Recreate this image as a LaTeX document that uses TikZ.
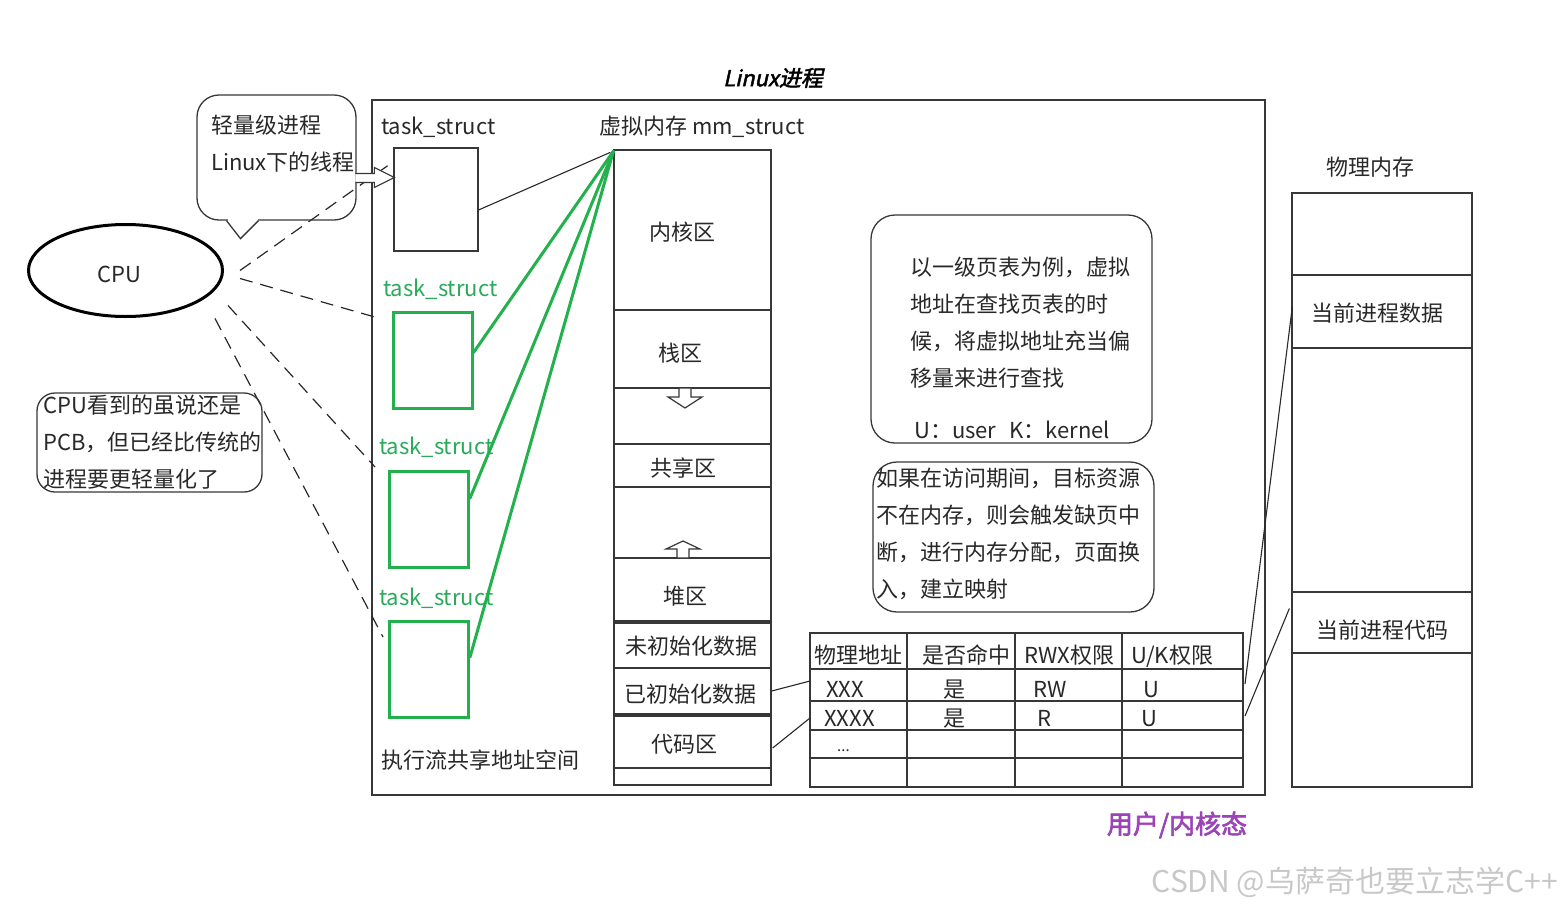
\documentclass[tikz,border=0pt]{standalone}
\usepackage{fontspec}
\setmainfont{Noto Sans CJK SC}
\newfontfamily\titlefont[FakeSlant=0.22,FakeBold=2]{Noto Sans CJK SC}
\newfontfamily\boldcjk[FakeBold=2.5]{Noto Sans CJK SC}
\usetikzlibrary{calc,shapes.geometric}

\definecolor{inkgray}{RGB}{40,40,40}
\definecolor{linegray}{RGB}{55,55,55}
\definecolor{tsgreen}{RGB}{34,177,76}
\definecolor{tstext}{RGB}{40,170,90}
\definecolor{statepurple}{RGB}{155,68,182}
\definecolor{markgray}{RGB}{200,200,200}

\tikzset{
  every node/.style={inner sep=0pt, text=inkgray},
  lbl/.style={font=\fontsize{22}{26}\selectfont, text height=17.5pt, text depth=1pt, anchor=west},
  clbl/.style={lbl, anchor=center},
  greenlbl/.style={lbl, text=tstext},
  box/.style={draw=linegray, line width=1.3pt, rectangle},
  greenbox/.style={draw=tsgreen, line width=3pt, rectangle, minimum width=79pt, minimum height=96pt},
  reg/.style={box, minimum width=157pt},
  pmreg/.style={box, minimum width=180pt},
  roundbox/.style={draw=linegray, line width=1.3pt, rounded corners=24pt},
  cpulink/.style={draw=inkgray, line width=1.2pt, dash pattern=on 13pt off 8pt},
  greenline/.style={draw=tsgreen, line width=3pt, line cap=round},
  thinlink/.style={draw=inkgray, line width=1.1pt},
  gridline/.style={draw=linegray, line width=1.3pt},
}

\begin{document}
\begin{tikzpicture}[x=1pt,y=-1pt]
\useasboundingbox (0,0) rectangle (1561,908);

% ---------- process frame ----------
\node[box, line width=1.6pt, minimum width=893pt, minimum height=695pt] (frame) at (818.5,447.5) {};
\node[font=\titlefont\fontsize{22}{26}\selectfont, text=black] (title) at (773,78) {Linux进程};

% ---------- task_struct column ----------
\node[lbl] (ts0lbl) at (381,126) {task\_struct};
\node[box, minimum width=84pt, minimum height=103pt] (tb0) at (436,199.5) {};

\node[greenlbl] (ts1lbl) at (383,288) {task\_struct};
\node[greenbox] (gb1) at (432.5,360.5) {};
\node[greenlbl] (ts2lbl) at (379,446) {task\_struct};
\node[greenbox] (gb2) at (429,519) {};
\node[greenlbl] (ts3lbl) at (379,597) {task\_struct};
\node[greenbox] (gb3) at (429,669) {};

\node[lbl] (sharelbl) at (381,760) {执行流共享地址空间};

% ---------- virtual memory (mm_struct) ----------
\node[lbl] (mmlbl) at (599,126) {虚拟内存 mm\_struct};
\node[reg, minimum height=635pt] (mm) at (692.5,467.5) {};
\node[reg, minimum height=160pt] (kern) at (692.5,230) {};
\node[reg, minimum height=78pt] (stack) at (692.5,349) {};
\node[reg, minimum height=56pt] (gap1) at (692.5,416) {};
\node[reg, line width=2pt, minimum height=43pt] (shared) at (692,465.5) {};
\node[reg, minimum height=71pt] (gap2) at (692.5,522.5) {};
\node[reg, minimum height=63pt] (heap) at (692.5,589.5) {};
\node[reg, minimum height=45pt] (bss) at (692.5,645.5) {};
\node[reg, minimum height=46pt] (data) at (692.5,691) {};
\node[reg, minimum height=52pt] (code) at (692.5,742) {};
\node[reg, minimum height=17pt] (tail) at (692.5,776.5) {};

\node[clbl] (kernlbl) at (682,232) {内核区};
\node[clbl] (stacklbl) at (680,353) {栈区};
\node[clbl] (sharedlbl) at (683,468) {共享区};
\node[clbl] (heaplbl) at (685,596) {堆区};
\node[clbl] (bsslbl) at (691,646) {未初始化数据};
\node[clbl] (datalbl) at (690,694) {已初始化数据};
\node[clbl] (codelbl) at (684,744) {代码区};

% growth arrows of stack and heap
\draw[linegray, line width=1.2pt, fill=white]
  (679,388) -- (691,388) -- (691,397) -- (702,397) -- (685,408) -- (668,397) -- (679,397) -- cycle;
\draw[linegray, line width=1.2pt, fill=white]
  (677,558) -- (689,558) -- (689,549) -- (700,549) -- (683,541) -- (666,549) -- (677,549) -- cycle;

% ---------- links from task_structs to mm_struct ----------
\draw[thinlink] ($(tb0.north east)!0.6!(tb0.south east)$) -- ($(mm.north west)+(-3,3)$);
\draw[greenline] ($(gb1.north east)!0.42!(gb1.south east)$) -- ($(mm.north west)+(0,2)$);
\draw[greenline] ($(gb2.north east)!0.29!(gb2.south east)$) -- ($(mm.north west)+(0,2)$);
\draw[greenline] ($(gb3.north east)!0.38!(gb3.south east)$) -- ($(mm.north west)+(0,2)$);

% ---------- CPU ----------
\node[draw=black, line width=3pt, ellipse, minimum width=194pt, minimum height=92pt] (cpu) at (125.5,270.5) {};
\node[clbl] (cpulbl) at (119,274) {CPU};

\draw[cpulink] ($(cpu.east)+(16,0)$) -- ($(tb0.west)+(-4,-35)$);
\draw[cpulink] ($(cpu.east)+(16,8)$) -- ($(gb1.west)+(-15,-43)$);
\draw[cpulink] ($(cpu.east)+(4,35)$) -- ($(gb2.west)+(-13,-52)$);
\draw[cpulink] ($(cpu.east)+(-9,48)$) -- ($(gb3.west)+(-5,-32)$);

% ---------- callout: lightweight process ----------
\node[roundbox, rounded corners=22pt, minimum width=159pt, minimum height=125pt] (co1) at (276.5,157.5) {};
\fill[white] ($(co1.south)+(-49,-1.5)$) rectangle ($(co1.south)+(-19,1.5)$);
\draw[linegray, line width=1.3pt] ($(co1.south)+(-50,0)$) -- ($(co1.south)+(-36,18)$) -- ($(co1.south)+(-18,0)$);
\node[lbl] (co1a) at (211,125) {轻量级进程};
\node[lbl] (co1b) at (211,162) {Linux下的线程};

% hollow arrow from the callout to the first task_struct
\coordinate (arrtip) at ($(tb0.west)+(1,-22)$);
\draw[linegray, line width=1.2pt, fill=white]
  ($(arrtip)+(-39,-4)$) -- ($(arrtip)+(-20,-4)$) -- ($(arrtip)+(-20,-10)$) -- (arrtip)
  -- ($(arrtip)+(-20,10)$) -- ($(arrtip)+(-20,5)$) -- ($(arrtip)+(-39,5)$);

% ---------- callout: CPU view ----------
\node[roundbox, rounded corners=18pt, minimum width=225pt, minimum height=99pt] (co2) at (149.5,442.5) {};
\node[lbl] (co2a) at (43,405) {CPU看到的虽说还是};
\node[lbl] (co2b) at (43,442) {PCB，但已经比传统的};
\node[lbl] (co2c) at (43,479) {进程要更轻量化了};

% ---------- notes ----------
\node[roundbox, minimum width=281pt, minimum height=228pt] (note1) at (1011.5,329) {};
\node[lbl] (n1a) at (910,267) {以一级页表为例，虚拟};
\node[lbl] (n1b) at (910,304) {地址在查找页表的时};
\node[lbl] (n1c) at (910,341) {候，将虚拟地址充当偏};
\node[lbl] (n1d) at (910,378) {移量来进行查找};
\node[lbl] (n1e) at (914,430) {U：user\hspace{0.6em}K：kernel};

\node[roundbox, minimum width=281pt, minimum height=150pt] (note2) at (1013.5,537) {};
\node[lbl] (n2a) at (876,478) {如果在访问期间，目标资源};
\node[lbl] (n2b) at (876,515) {不在内存，则会触发缺页中};
\node[lbl] (n2c) at (876,552) {断，进行内存分配，页面换};
\node[lbl] (n2d) at (876,589) {入，建立映射};

% ---------- page table ----------
\node[box, minimum width=433pt, minimum height=154pt] (ptab) at (1026.5,710) {};
\draw[gridline] (810,669) -- (1243,669);
\draw[gridline] (810,701) -- (1243,701);
\draw[gridline] (810,730) -- (1243,730);
\draw[gridline] (810,758) -- (1243,758);
\draw[gridline] (907,633) -- (907,787);
\draw[gridline] (1015,633) -- (1015,787);
\draw[gridline] (1122,633) -- (1122,787);

\node[lbl] (h1) at (814,655) {物理地址};
\node[lbl] (h2) at (922,655) {是否命中};
\node[lbl] (h3) at (1024,655) {RWX权限};
\node[lbl] (h4) at (1131,655) {U/K权限};
\node[lbl] (c11) at (826,689) {XXX};
\node[lbl] (c12) at (943,689) {是};
\node[lbl] (c13) at (1033,689) {RW};
\node[lbl] (c14) at (1143,689) {U};
\node[lbl] (c21) at (824,718) {XXXX};
\node[lbl] (c22) at (943,718) {是};
\node[lbl] (c23) at (1037,718) {R};
\node[lbl] (c24) at (1141,718) {U};
\node[lbl, font=\fontsize{15}{17}\selectfont] (c31) at (837,743) {...};

\coordinate (row1w) at (810,681);
\coordinate (row2w) at (810,718);
\coordinate (row1e) at (1245,684);
\coordinate (row2e) at (1245,716);

\draw[thinlink] (data.east) -- (row1w);
\draw[thinlink] ($(code.east)+(1,6)$) -- (row2w);

% ---------- physical memory ----------
\node[clbl] (pmlbl) at (1370,167) {物理内存};
\node[pmreg, minimum height=594pt] (pm) at (1382,490) {};
\node[pmreg, minimum height=82pt] (pmtop) at (1382,234) {};
\node[pmreg, minimum height=73pt] (pmdata) at (1382,311.5) {};
\node[pmreg, minimum height=244pt] (pmmid) at (1382,470) {};
\node[pmreg, minimum height=61pt] (pmcode) at (1382,622.5) {};
\node[pmreg, minimum height=134pt] (pmbot) at (1382,720) {};
\node[clbl] (pmdatalbl) at (1377,313) {当前进程数据};
\node[clbl] (pmcodelbl) at (1382,630) {当前进程代码};

\draw[thinlink] (row1e) -- ($(pmdata.west)+(1,-5)$);
\draw[thinlink] (row2e) -- ($(pmcode.west)+(-2,-14)$);

% ---------- captions ----------
\node[font=\boldcjk\fontsize{26}{30}\selectfont, text=statepurple] (state) at (1177,825) {用户/内核态};
\node[font=\fontsize{30}{34}\selectfont, text=markgray, anchor=east] (mark) at (1558,882) {CSDN @乌萨奇也要立志学C++};
\end{tikzpicture}
\end{document}
